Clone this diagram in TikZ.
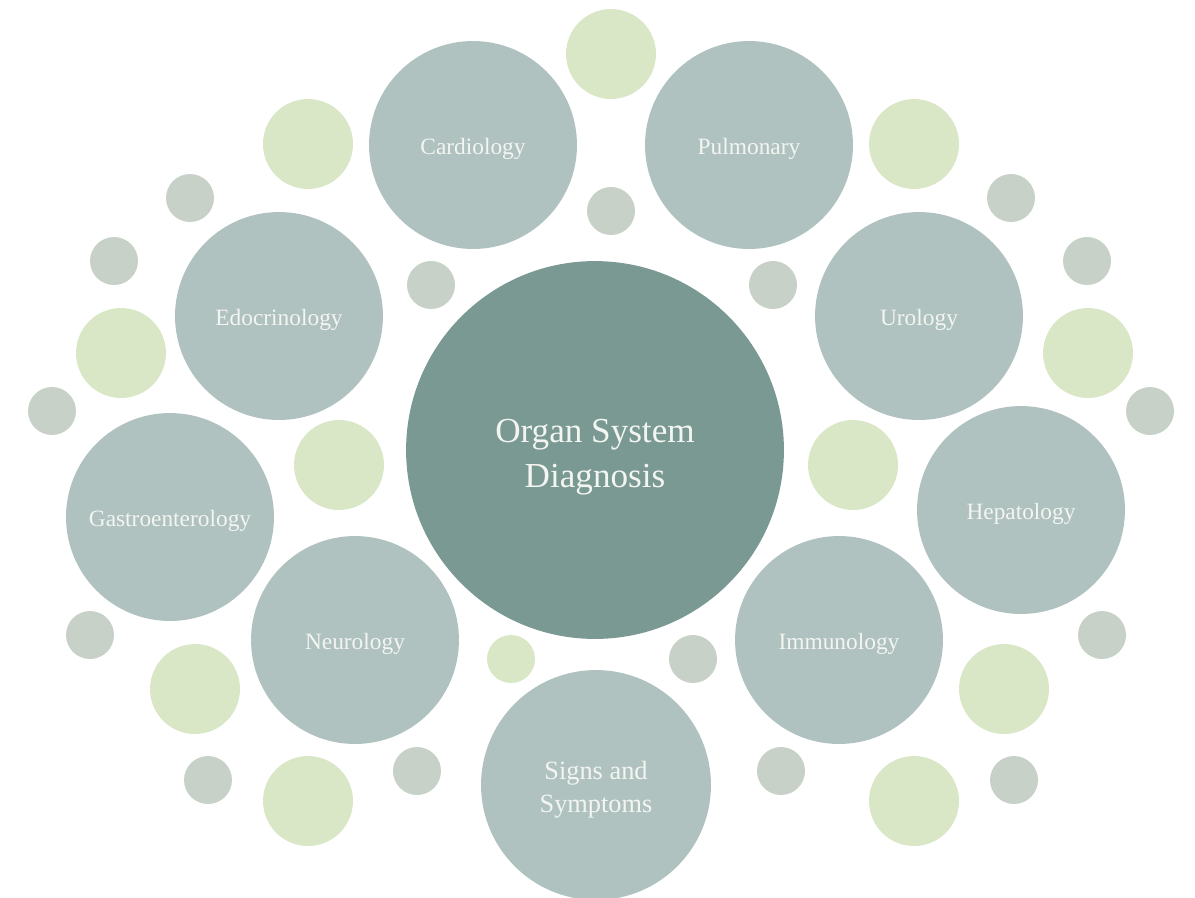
\documentclass[tikz,border=0pt]{standalone}
\usepackage{fontspec}
\setmainfont{Liberation Serif}
\definecolor{hubfill}{HTML}{7A9993}
\definecolor{topicfill}{HTML}{AFC2C0}
\definecolor{leaffill}{HTML}{DAE7C7}
\definecolor{dotfill}{HTML}{C7D1C7}
\definecolor{labeltext}{HTML}{F3F5F1}
\tikzset{
  disc/.style={circle, draw=none, inner sep=0pt, minimum size=#1*0.04cm},
  hub/.style={disc=189, fill=hubfill},
  topic/.style={disc=104, fill=topicfill},
  leaf/.style={disc=45, fill=leaffill},
  dot/.style={disc=24, fill=dotfill},
  smallleaf/.style={disc=24, fill=leaffill},
  caption/.style={text=labeltext, align=center, inner sep=0pt,
    font=\fontsize{13.3}{18}\selectfont},
  hubcaption/.style={caption, font=\fontsize{20}{26}\selectfont},
  signscaption/.style={caption, font=\fontsize{15}{18.5}\selectfont},
}
\begin{document}
\begin{tikzpicture}[x=0.02cm, y=-0.02cm]
\useasboundingbox (0,0) rectangle (1195,897);
\begin{scope}
\clip (0,0) rectangle (1195,897);
% decorative light-green circles
\node[leaf] (g1) at (611,54) {};
\node[leaf] (g2) at (308,144) {};
\node[leaf] (g3) at (914,144) {};
\node[leaf] (g4) at (121,353) {};
\node[leaf] (g5) at (1088,353) {};
\node[leaf] (g6) at (339,465) {};
\node[leaf] (g7) at (853,465) {};
\node[leaf] (g8) at (195,689) {};
\node[leaf] (g9) at (1004,689) {};
\node[leaf] (g10) at (308,801) {};
\node[leaf] (g11) at (914,801) {};
\node[smallleaf] (g12) at (511,659) {};
% decorative grey dots
\node[dot] (d1) at (611,211) {};
\node[dot] (d2) at (190,198) {};
\node[dot] (d3) at (1011,198) {};
\node[dot] (d4) at (114,261) {};
\node[dot] (d5) at (1087,261) {};
\node[dot] (d6) at (431,285) {};
\node[dot] (d7) at (773,285) {};
\node[dot] (d8) at (52,411) {};
\node[dot] (d9) at (1150,411) {};
\node[dot] (d10) at (90,635) {};
\node[dot] (d11) at (1102,635) {};
\node[dot] (d12) at (693,659) {};
\node[dot] (d13) at (417,771) {};
\node[dot] (d14) at (781,771) {};
\node[dot] (d15) at (208,780) {};
\node[dot] (d16) at (1014,780) {};
% central topic
\node[hub] (hub) at (595,450) {};
% surrounding topics
\node[topic] (cardio) at (473,145) {};
\node[topic] (pulmo) at (749,145) {};
\node[topic] (endo) at (279,316) {};
\node[topic] (uro) at (919,316) {};
\node[topic] (gastro) at (170,517) {};
\node[topic] (hepato) at (1021,510) {};
\node[topic] (neuro) at (355,640) {};
\node[topic] (immuno) at (839,640) {};
\node[topic, disc=115] (signs) at (596,785) {};
% captions, set slightly below each circle's centre
\node[hubcaption] (hub-t) at ([yshift=-4pt]hub.center) {Organ System\\Diagnosis};
\node[caption] (cardio-t) at ([yshift=-2.2pt]cardio.center) {Cardiology};
\node[caption] (pulmo-t) at ([yshift=-2.2pt]pulmo.center) {Pulmonary};
\node[caption] (endo-t) at ([yshift=-2.2pt]endo.center) {Edocrinology};
\node[caption] (uro-t) at ([yshift=-2.2pt]uro.center) {Urology};
\node[caption] (gastro-t) at ([yshift=-2.2pt]gastro.center) {Gastroenterology};
\node[caption] (hepato-t) at ([yshift=-2.2pt]hepato.center) {Hepatology};
\node[caption] (neuro-t) at ([yshift=-2.2pt]neuro.center) {Neurology};
\node[caption] (immuno-t) at ([yshift=-2.2pt]immuno.center) {Immunology};
\node[signscaption] (signs-t) at ([yshift=-2.8pt]signs.center) {Signs and\\Symptoms};
\end{scope}
\end{tikzpicture}
\end{document}
